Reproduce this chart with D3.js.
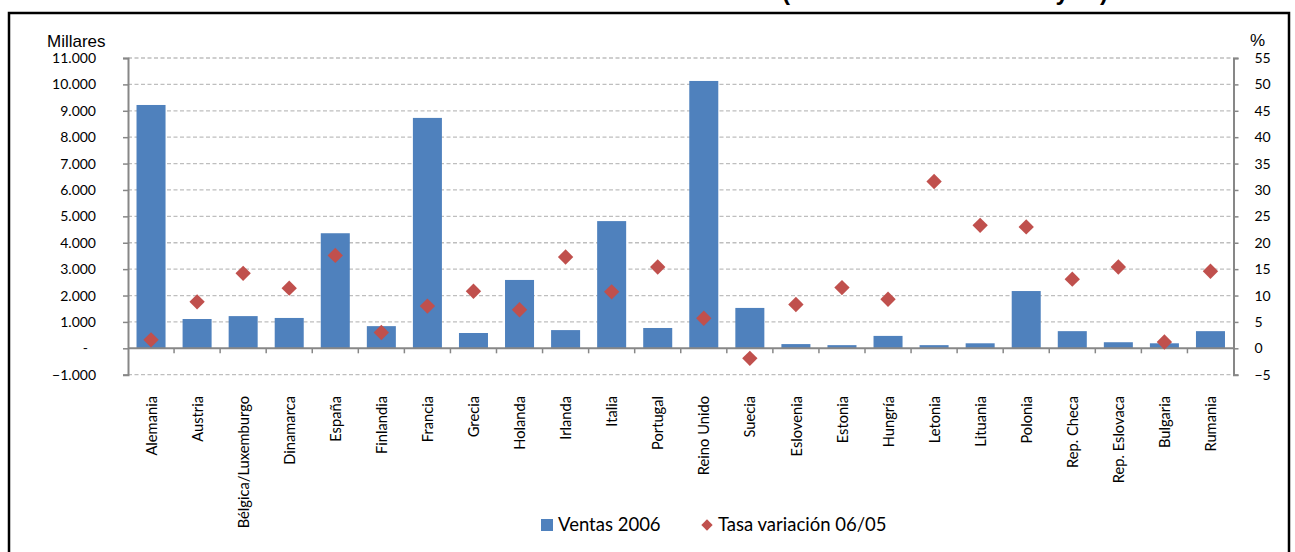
<!DOCTYPE html>
<html>
<head>
<meta charset="utf-8">
<script src="https://cdn.jsdelivr.net/npm/d3@7"></script>
<style>
  body { margin: 0; background: #fff; }
  svg { display: block; }
</style>
</head>
<body>
<div id="chart"></div>
<script>
// datos
var paises = ["Alemania", "Austria", "Bélgica/Luxemburgo", "Dinamarca", "España", "Finlandia",
    "Francia", "Grecia", "Holanda", "Irlanda", "Italia", "Portugal", "Reino Unido", "Suecia",
    "Eslovenia", "Estonia", "Hungría", "Letonia", "Lituania", "Polonia", "Rep. Checa",
    "Rep. Eslovaca", "Bulgaria", "Rumania"];
var ventas2006 = [9220, 1110, 1220, 1150, 4360, 840, 8730, 580, 2590, 690, 4820, 770, 10130,
    1530, 160, 120, 470, 120, 190, 2170, 650, 230, 190, 650];
var tasaVariacion = [1.6, 8.8, 14.2, 11.4, 17.6, 3.0, 8.0, 10.8, 7.3, 17.3, 10.7, 15.4, 5.7,
    -1.9, 8.3, 11.5, 9.3, 31.6, 23.3, 23.0, 13.1, 15.4, 1.2, 14.6];
var ticksMillares = [-1000, 0, 1000, 2000, 3000, 4000, 5000, 6000, 7000, 8000, 9000, 10000, 11000];
var ticksPct = [-5, 0, 5, 10, 15, 20, 25, 30, 35, 40, 45, 50, 55];
var leyenda = ["Ventas 2006", "Tasa variación 06/05"];

function draw() {
    var width = 1295, height = 552;
    var plotLeft = 128, plotRight = 1233.5, plotTop = 58, plotBottom = 374.7;
    var azul = "#4F81BD", rojo = "#C0504D", gris = "#878787";
    var fuente = "Lato, 'Open Sans', sans-serif";

    var svg = d3.select("#chart").append("svg")
        .attr("width", width)
        .attr("height", height);

    // titulo cortado por arriba (solo asoman los trazos inferiores)
    svg.append("text")
        .attr("x", 782).attr("y", -0.5)
        .attr("textLength", 326).attr("lengthAdjust", "spacing")
        .style("font", "bold 24px Arial, 'Liberation Sans'")
        .text("(Millares de unidades y %)");

    // marco
    svg.append("path")
        .attr("d", "M9,560V13H1289V560")
        .attr("fill", "none")
        .attr("stroke", "#000")
        .attr("stroke-width", 2.5);

    var x = d3.scaleBand()
        .domain(paises)
        .range([plotLeft, plotRight])
        .paddingInner(0.37)
        .paddingOuter(0.185);

    var y = d3.scaleLinear().domain([-1000, 11000]).range([plotBottom, plotTop]);
    var y2 = d3.scaleLinear().domain([-5, 55]).range([plotBottom, plotTop]);

    var es = d3.formatLocale({decimal: ",", thousands: ".", grouping: [3], currency: ["", "€"]});
    var fmt = es.format(",d");

    // rejilla
    svg.append("g").selectAll("line")
        .data(ticksMillares.filter(function(d) { return d != 0; }))
        .join("line")
        .attr("x1", plotLeft).attr("x2", plotRight)
        .attr("y1", function(d) { return y(d); })
        .attr("y2", function(d) { return y(d); })
        .attr("stroke", "#BEBEBE")
        .attr("stroke-width", 1.3)
        .attr("stroke-dasharray", "4,2.5");

    // barras
    svg.append("g").selectAll("rect")
        .data(paises)
        .join("rect")
        .attr("x", function(d) { return x(d); })
        .attr("width", x.bandwidth())
        .attr("y", function(d, i) { return y(Math.max(0, ventas2006[i])); })
        .attr("height", function(d, i) { return Math.abs(y(ventas2006[i]) - y(0)); })
        .attr("fill", azul);

    // eje izquierdo
    var ejeY = svg.append("g")
        .attr("transform", "translate(" + plotLeft + ",0)")
        .call(d3.axisLeft(y).tickValues(ticksMillares).tickSize(5).tickPadding(27)
            .tickFormat(function(d) { return d == 0 ? "-" : fmt(d); }));
    ejeY.select(".domain").attr("stroke", gris).attr("stroke-width", 2);
    ejeY.selectAll(".tick line").attr("stroke", gris).attr("stroke-width", 1.5);
    ejeY.selectAll(".tick text")
        .style("font", "14px " + fuente).attr("fill", "#000")
        .attr("dx", function(d) { return d == 0 ? -8 : 0; });

    // eje derecho
    var ejeY2 = svg.append("g")
        .attr("transform", "translate(" + plotRight + ",0)")
        .call(d3.axisRight(y2).tickValues(ticksPct).tickSize(5).tickPadding(16));
    ejeY2.select(".domain").attr("stroke", gris).attr("stroke-width", 2);
    ejeY2.selectAll(".tick line").attr("stroke", gris).attr("stroke-width", 1.5);
    ejeY2.selectAll(".tick text").style("font", "14px " + fuente).attr("fill", "#000");

    // linea del cero y marcas de categoria
    svg.append("line")
        .attr("x1", plotLeft).attr("x2", plotRight)
        .attr("y1", y(0)).attr("y2", y(0))
        .attr("stroke", gris).attr("stroke-width", 2);

    var bordes = paises.map(function(d) { return x(d) - x.step() * x.paddingInner() / 2; }).slice(1);
    svg.append("g").selectAll("line")
        .data(bordes)
        .join("line")
        .attr("x1", function(d) { return d; }).attr("x2", function(d) { return d; })
        .attr("y1", y(0)).attr("y2", y(0) + 5)
        .attr("stroke", gris).attr("stroke-width", 1.5);

    // etiquetas de categoria
    svg.append("g").selectAll("text")
        .data(paises)
        .join("text")
        .attr("transform", function(d) {
            return "translate(" + (x(d) + x.bandwidth() / 2) + ",396) rotate(-90)";
        })
        .attr("text-anchor", "end")
        .attr("dy", "0.38em")
        .style("font", "14.7px " + fuente)
        .text(function(d) { return d; });

    // rombos
    var rombo = d3.symbol().type(d3.symbolSquare).size(118);
    svg.append("g").selectAll("path")
        .data(paises)
        .join("path")
        .attr("d", rombo)
        .attr("transform", function(d, i) {
            return "translate(" + (x(d) + x.bandwidth() / 2) + "," + y2(tasaVariacion[i]) + ") rotate(45)";
        })
        .attr("fill", rojo);

    // titulos de los ejes
    svg.append("text")
        .attr("x", 47).attr("y", 47)
        .style("font", "17px Arial, 'Liberation Sans'")
        .text("Millares");
    svg.append("text")
        .attr("x", 1250).attr("y", 46)
        .style("font", "17px Arial, 'Liberation Sans'")
        .text("%");

    // leyenda
    var ley = svg.append("g");
    ley.append("rect")
        .attr("x", 541).attr("y", 519).attr("width", 12).attr("height", 12)
        .attr("fill", azul);
    ley.append("text")
        .attr("x", 558).attr("y", 531)
        .style("font", "18.5px " + fuente)
        .text(leyenda[0]);
    ley.append("path")
        .attr("d", d3.symbol().type(d3.symbolSquare).size(64))
        .attr("transform", "translate(707,525) rotate(45)")
        .attr("fill", rojo);
    ley.append("text")
        .attr("x", 718).attr("y", 531)
        .style("font", "18.5px " + fuente)
        .text(leyenda[1]);
}

draw();
</script>
</body>
</html>
